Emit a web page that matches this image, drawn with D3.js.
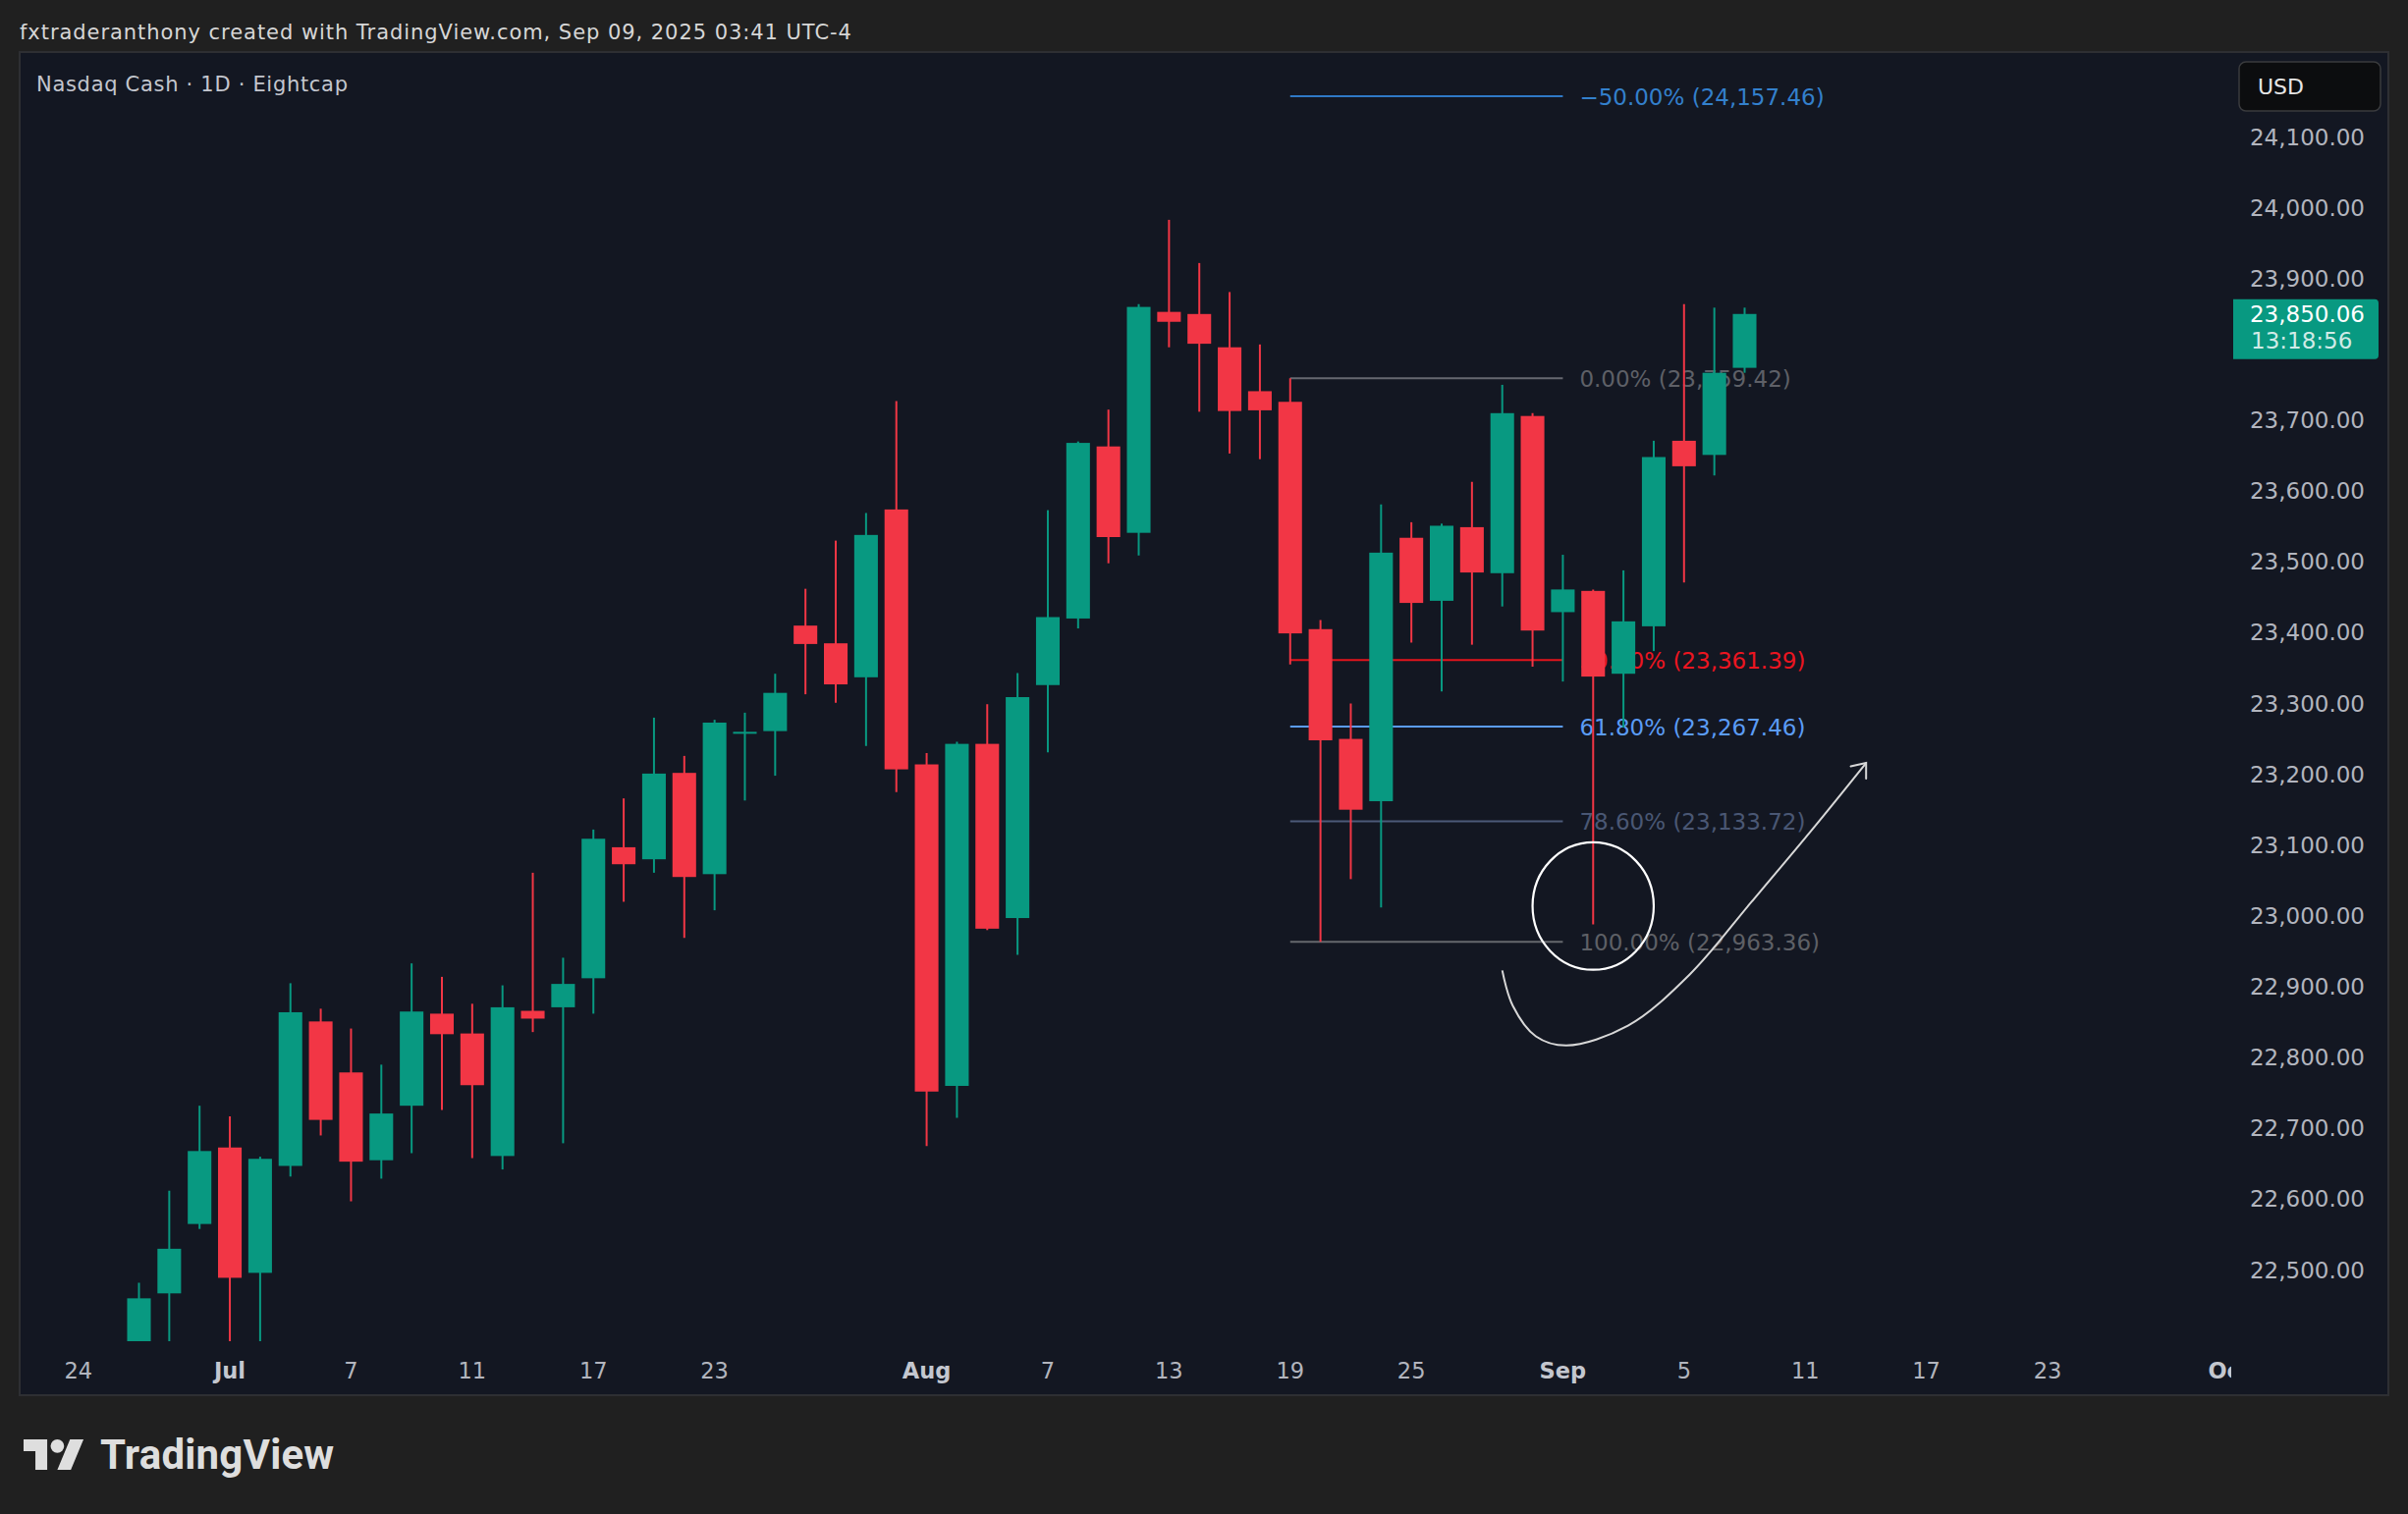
<!DOCTYPE html>
<html><head><meta charset="utf-8">
<script src="https://cdn.jsdelivr.net/npm/d3@7"></script>
<style>
html,body{margin:0;padding:0;background:#202020;overflow:hidden;}
svg{display:block;}
</style></head><body>
<script>
// ---------------- DATA ----------------
const dates = ["2025-06-26","2025-06-27","2025-06-30","2025-07-01","2025-07-02","2025-07-03","2025-07-04","2025-07-07","2025-07-08","2025-07-09","2025-07-10","2025-07-11","2025-07-14","2025-07-15","2025-07-16","2025-07-17","2025-07-18","2025-07-21","2025-07-22","2025-07-23","2025-07-24","2025-07-25","2025-07-28","2025-07-29","2025-07-30","2025-07-31","2025-08-01","2025-08-04","2025-08-05","2025-08-06","2025-08-07","2025-08-08","2025-08-11","2025-08-12","2025-08-13","2025-08-14","2025-08-15","2025-08-18","2025-08-19","2025-08-20","2025-08-21","2025-08-22","2025-08-25","2025-08-26","2025-08-27","2025-08-28","2025-08-29","2025-09-01","2025-09-02","2025-09-03","2025-09-04","2025-09-05","2025-09-08","2025-09-09"];
const open  = [22370,22467,22565,22673,22496,22647,22851,22779,22655,22732,22862,22834,22661,22866,22871,22912,23097,23080,23202,23059,23258,23261,23410,23385,23337,23574,23214,22760,23243,22997,23326,23420,23663,23541,23853,23850,23803,23741,23726,23405,23250,23162,23534,23445,23549,23484,23706,23429,23459,23342,23409,23671,23651,23774];
const high  = [22482,22612,22732,22717,22660,22905,22869,22841,22790,22933,22914,22876,22902,23061,22941,23122,23166,23280,23226,23277,23287,23342,23462,23530,23569,23727,23230,23246,23299,23343,23573,23670,23715,23864,23983,23922,23881,23807,23759.42,23418,23300,23581,23556,23554,23613,23750,23710,23510,23461,23488,23671,23864,23859,23859];
const low   = [22340,22380,22558,22390,22385,22632,22690,22597,22629,22665,22726,22658,22642,22836,22679,22862,23020,23061,22969,23008,23163,23198,23313,23301,23240,23175,22675,22715,22980,22945,23231,23406,23498,23509,23803,23712,23653,23645,23355,22963.36,23052,23012,23386,23317,23383,23437,23352,23331,22988,23266,23374,23471,23622,23767];
const close = [22460,22530,22668,22489,22657,22864,22712,22653,22721,22865,22833,22761,22871,22855,22904,23109,23073,23201,23055,23273,23260,23315,23384,23327,23538,23207,22752,23243,22982,23309,23422,23668,23535,23860,23839,23808,23713,23714,23399,23248,23150,23513,23442,23551,23485,23710,23403,23461,23338,23416,23648,23635,23767,23850.06];

// price labels visible on the axis (the 23,800 one sits under the last-price label)
const priceTicks = [22500,22600,22700,22800,22900,23000,23100,23200,23300,23400,23500,23600,23700,23900,24000,24100];
const timeTickDates  = ["2025-06-24","2025-07-01","2025-07-07","2025-07-11","2025-07-17","2025-07-23","2025-08-01","2025-08-07","2025-08-13","2025-08-19","2025-08-25","2025-09-01","2025-09-05","2025-09-11","2025-09-17","2025-09-23","2025-10-01"];
const timeTickLabels = ["24","Jul","7","11","17","23","Aug","7","13","19","25","Sep","5","11","17","23","Oct"];
const monthTicks = ["Jul","Aug","Sep","Oct"];

const fibLevels = ["−50.00%","0.00%","50.00%","61.80%","78.60%","100.00%"];
const fibPrices = [24157.46,23759.42,23361.39,23267.46,23133.72,22963.36];
const fibColors = ["#2f79c6","#666870","#e3141c","#5b9cf6","#4c5a78","#66686d"];
const fibTextColors = ["#3380cc","#5e6067","#ec1520","#5b9cf6","#4a5774","#5e6066"];
const fibStart = "2025-08-19", fibEnd = "2025-09-01";

const lastPrice = 23850.06, countdown = "13:18:56";

const circleDate = "2025-09-02", circlePrice = 23014, circleBars = 2.0, circlePts = 90;
const arrowBars   = [47.0,47.35,48.11,49.12,51.15,53.18,55.21,57.23,59.01];
const arrowPrices = [22923,22873,22830,22817,22845,22917,23019,23122,23216];

// ---------------- LAYOUT ----------------
const W = 2452, H = 1542;
const panel = {x:20, y:53, w:2412, h:1368};
const pane = {x0:21, x1:2272, y0:54, y1:1366};

const parse = d3.utcParse("%Y-%m-%d");
const fmtKey = d3.utcFormat("%Y-%m-%d");
const cal = d3.utcDay.range(parse("2025-06-24"), parse("2025-10-02")).filter(d => d.getUTCDay() % 6 !== 0);
const idx = new Map(cal.map((d,i)=>[fmtKey(d), i]));

const x = d3.scaleLinear().domain([0, 55]).range([79.8, 1776.5]);
const y = d3.scaleLinear().domain([22500, 24100]).range([1293.5, 139.5]);
const step = x(1) - x(0);
const bodyW = step * 0.78;

const GREEN = "#089981", RED = "#f23645";
const FONT = "'DejaVu Sans', sans-serif";

const svg = d3.select("body").append("svg").attr("width", W).attr("height", H);
svg.append("rect").attr("width", W).attr("height", H).attr("fill", "#202020");

// header
svg.append("text").attr("x", 20).attr("y", 33).attr("dominant-baseline","central")
  .attr("font-family", FONT).attr("font-size", 21).attr("letter-spacing", 0.95)
  .attr("fill", "#d6d6d6")
  .text("fxtraderanthony created with TradingView.com, Sep 09, 2025 03:41 UTC-4");

// panel
svg.append("rect").attr("x", panel.x).attr("y", panel.y).attr("width", panel.w).attr("height", panel.h)
  .attr("fill", "#131722").attr("stroke", "#2e2f33").attr("stroke-width", 2);

const defs = svg.append("defs");
defs.append("clipPath").attr("id","paneClip").append("rect")
  .attr("x", pane.x0).attr("y", pane.y0).attr("width", pane.x1-pane.x0).attr("height", pane.y1-pane.y0);
defs.append("clipPath").attr("id","timeClip").append("rect")
  .attr("x", pane.x0).attr("y", pane.y1).attr("width", pane.x1-pane.x0).attr("height", 54);

svg.append("text").attr("x", 37).attr("y", 86).attr("dominant-baseline","central")
  .attr("font-family", FONT).attr("font-size", 21).attr("letter-spacing", 0.7)
  .attr("fill", "#c3c6ce").text("Nasdaq Cash · 1D · Eightcap");

const g = svg.append("g").attr("clip-path", "url(#paneClip)");

// fib
const fx1 = x(idx.get(fibStart)), fx2 = x(idx.get(fibEnd));
const fib = g.append("g");
fibPrices.forEach((p,i) => {
  fib.append("line").attr("x1", fx1).attr("x2", fx2).attr("y1", y(p)).attr("y2", y(p))
    .attr("stroke", fibColors[i]).attr("stroke-width", 2);
  fib.append("text").attr("x", fx2 + 17).attr("y", y(p) + 1).attr("dominant-baseline","central")
    .attr("font-family", FONT).attr("font-size", 23).attr("fill", fibTextColors[i])
    .text(`${fibLevels[i]} (${d3.format(",.2f")(p)})`);
});

// candles
const bars = dates.map((d,i)=>({i: idx.get(d), o: open[i], h: high[i], l: low[i], c: close[i]}));
const cg = g.append("g");
cg.selectAll("line.wick").data(bars).join("line").attr("class","wick")
  .attr("x1", d=>x(d.i)).attr("x2", d=>x(d.i))
  .attr("y1", d=>y(d.h)).attr("y2", d=>y(d.l))
  .attr("stroke", d=> d.c >= d.o ? GREEN : RED).attr("stroke-width", 2);
cg.selectAll("rect.body").data(bars).join("rect").attr("class","body")
  .attr("x", d=>x(d.i) - bodyW/2).attr("width", bodyW)
  .attr("y", d=>Math.min(y(d.o), y(d.c)))
  .attr("height", d=>Math.max(2, Math.abs(y(d.o) - y(d.c))))
  .attr("fill", d=> d.c >= d.o ? GREEN : RED);

// annotations
g.append("ellipse").attr("cx", x(idx.get(circleDate))).attr("cy", y(circlePrice))
  .attr("rx", x(circleBars) - x(0)).attr("ry", y(23000 - circlePts) - y(23000))
  .attr("fill","none").attr("stroke","#ffffff").attr("stroke-width", 2.2);
const apts = arrowBars.map((b,i)=>[x(b), y(arrowPrices[i])]);
g.append("path").attr("d", d3.line().curve(d3.curveCatmullRom)(apts))
  .attr("fill","none").attr("stroke","#d8d8d8").attr("stroke-width", 2);
{
  const [tx,ty] = apts[apts.length-1], [px,py] = apts[apts.length-2];
  const ang = Math.atan2(py-ty, px-tx), L = 16, sp = 0.68;
  const w1 = [tx + L*Math.cos(ang+sp), ty + L*Math.sin(ang+sp)];
  const w2 = [tx + L*Math.cos(ang-sp), ty + L*Math.sin(ang-sp)];
  g.append("path").attr("d", `M${w1[0]},${w1[1]}L${tx},${ty}L${w2[0]},${w2[1]}`)
    .attr("fill","none").attr("stroke","#d8d8d8").attr("stroke-width", 2).attr("stroke-linecap","round");
}

// price axis
const pa = svg.append("g");
pa.selectAll("text").data(priceTicks).join("text")
  .attr("x", 2408).attr("y", d=>y(d)).attr("dominant-baseline","central").attr("text-anchor","end")
  .attr("font-family", FONT).attr("font-size", 23).attr("fill", "#b2b5be")
  .text(d=>d3.format(",.2f")(d));

// USD box
svg.append("rect").attr("x", 2280).attr("y", 63).attr("width", 144).attr("height", 50).attr("rx", 7)
  .attr("fill", "#0c0d0f").attr("stroke", "#3a3b3e").attr("stroke-width", 1.5);
svg.append("text").attr("x", 2299).attr("y", 88).attr("dominant-baseline","central")
  .attr("font-family", FONT).attr("font-size", 22).attr("fill", "#e6e6e6").text("USD");

// last price label
{
  const yl = y(lastPrice), bx0 = 2274, bx1 = 2422, by0 = yl - 15, by1 = yl + 46, r = 4;
  svg.append("path").attr("d", `M${bx0},${by0}H${bx1-r}Q${bx1},${by0} ${bx1},${by0+r}V${by1-r}Q${bx1},${by1} ${bx1-r},${by1}H${bx0}Z`)
    .attr("fill", GREEN);
  svg.append("text").attr("x", 2408).attr("y", yl).attr("dominant-baseline","central").attr("text-anchor","end")
    .attr("font-family", FONT).attr("font-size", 23).attr("fill", "#ffffff").text(d3.format(",.2f")(lastPrice));
  svg.append("text").attr("x", 2292).attr("y", yl + 27).attr("dominant-baseline","central")
    .attr("font-family", FONT).attr("font-size", 23).attr("fill", "rgba(255,255,255,0.82)").text(countdown);
}

// time axis
const ta = svg.append("g").attr("clip-path","url(#timeClip)");
ta.selectAll("text").data(timeTickDates).join("text")
  .attr("x", d=>x(idx.get(d))).attr("y", 1396).attr("dominant-baseline","central").attr("text-anchor","middle")
  .attr("font-family", FONT).attr("font-size", 22.5)
  .attr("font-weight", (d,i)=> monthTicks.includes(timeTickLabels[i]) ? "bold" : "normal")
  .attr("fill", (d,i)=> monthTicks.includes(timeTickLabels[i]) ? "#c4c7cf" : "#b2b5be")
  .text((d,i)=>timeTickLabels[i]);

// logo
const logo = svg.append("g").attr("transform","translate(24,1459.1) scale(1.72)").attr("fill","#dedede");
logo.append("path").attr("d","M14 22H7V11H0V4h14v18zM28 22h-8l7.5-18h8L28 22z");
logo.append("circle").attr("cx",20).attr("cy",8).attr("r",4);
svg.append("text").attr("x", 102).attr("y", 1496).attr("font-family","Roboto, sans-serif")
  .attr("font-size", 42).attr("font-weight", 700).attr("letter-spacing", 0.2).attr("fill","#dedede").text("TradingView");
</script>
</body></html>
